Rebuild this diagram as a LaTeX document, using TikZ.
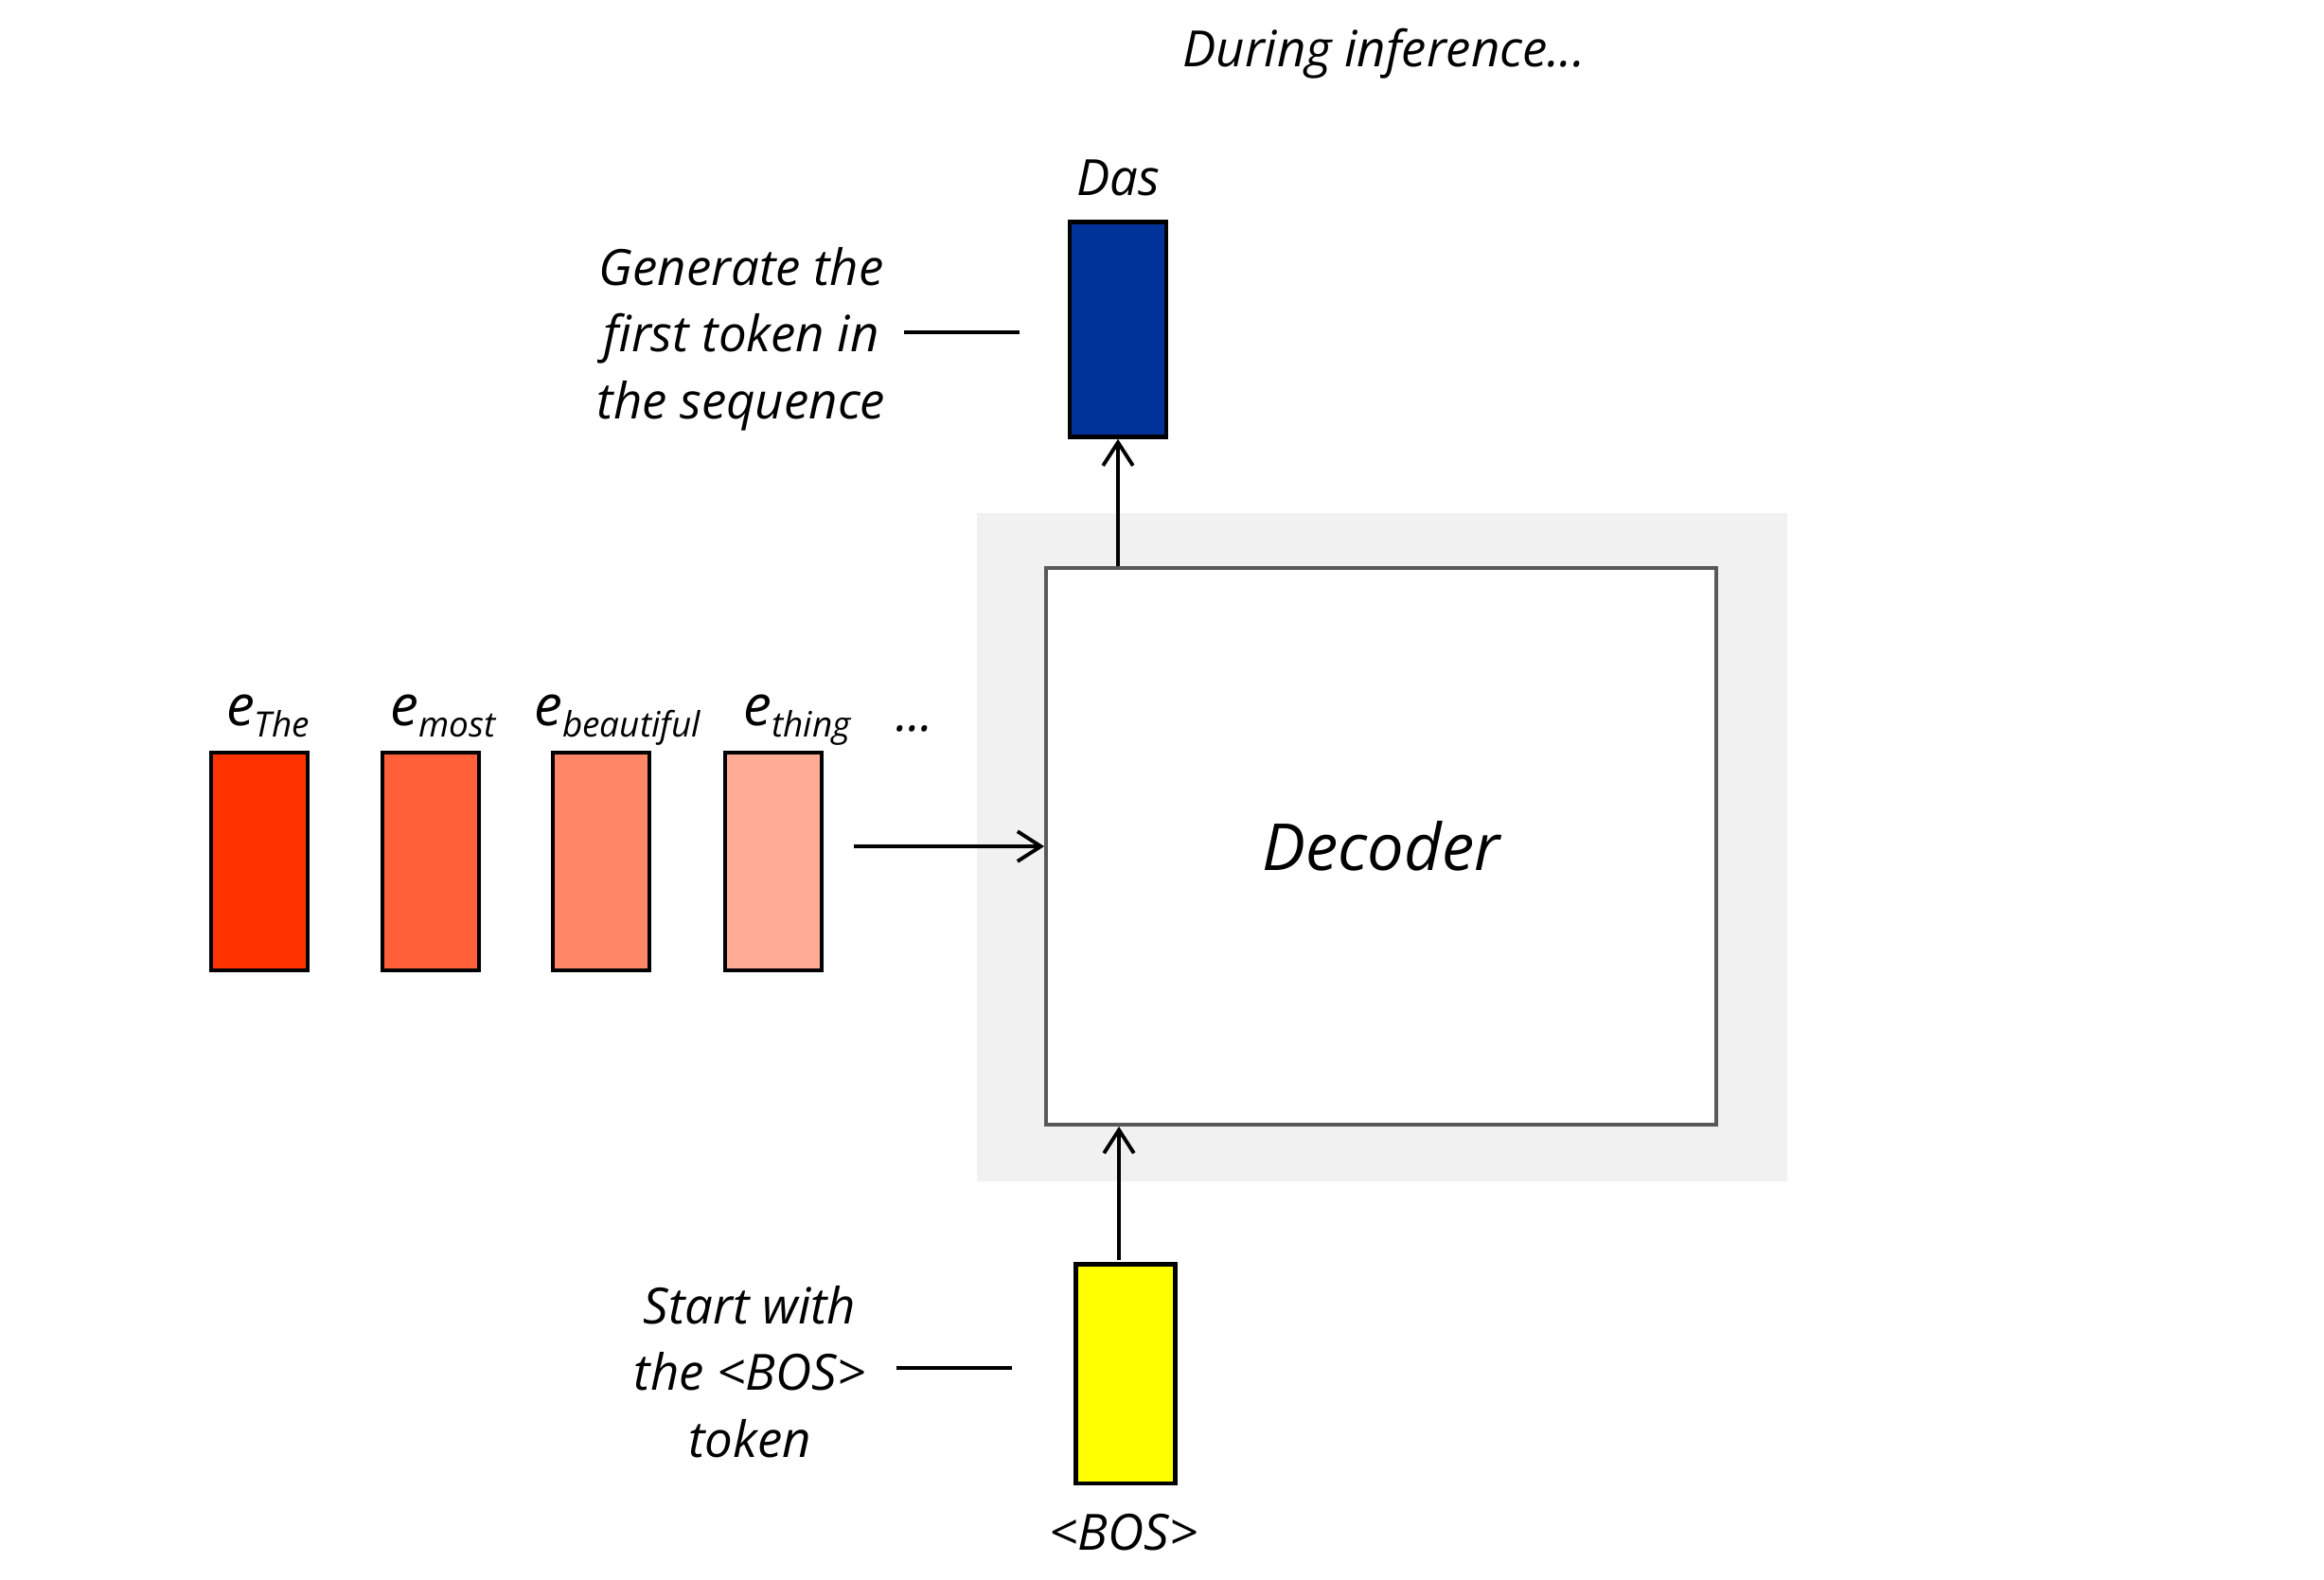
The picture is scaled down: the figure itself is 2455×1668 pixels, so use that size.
\documentclass[tikz,border=0pt]{standalone}
\usepackage{fontspec}
\setmainfont{Open Sans}
\usetikzlibrary{arrows.meta}
\definecolor{eThe}{HTML}{FF3300}
\definecolor{eMost}{HTML}{FF5F39}
\definecolor{eBeau}{HTML}{FF8767}
\definecolor{eThing}{HTML}{FFAB96}
\definecolor{dasBlue}{HTML}{003399}
\definecolor{bosYellow}{HTML}{FFFF00}
\definecolor{bgGray}{HTML}{F1F1F1}
\definecolor{decGray}{HTML}{595959}
\tikzset{
  tok/.style={draw=black, line width=1.2pt, minimum width=1.02cm, minimum height=2.3cm, inner sep=0pt},
  arr/.style={line width=1.1pt, -{Straight Barb[length=7pt,width=9pt,line width=1.1pt]}},
  lbl/.style={font=\fontsize{15}{20}\selectfont\itshape, align=center, inner sep=0pt},
  conn/.style={line width=1.1pt},
}
\newcommand{\emb}[1]{{\fontsize{17}{17}\selectfont e}\raisebox{-3.5pt}{\fontsize{10.5}{10.5}\selectfont #1}}
\begin{document}
\begin{tikzpicture}[x=0.01cm,y=-0.01cm]
\useasboundingbox (0,0) rectangle (2455,1668);
% background panel and decoder
\node[fill=bgGray, minimum width=8.56cm, minimum height=7.06cm, inner sep=0pt] (bg) at (1460,895) {};
\node[draw=decGray, line width=1pt, fill=white, minimum width=7.08cm, minimum height=5.88cm, inner sep=0pt,
      font=\fontsize{19.5}{19.5}\selectfont\itshape] (dec) at (1459,894) {Decoder};
% title
\node[lbl] (title) at (1462,57) {During inference...};
% output token
\node[tok, fill=dasBlue, minimum height=2.27cm] (das) at (1181,348) {};
\node[lbl] (daslbl) at (1181,188) {Das};
% BOS token
\node[tok, fill=bosYellow, minimum width=1.05cm, minimum height=2.31cm] (bos) at (1189,1451) {};
\node[lbl] (boslbl) at (1187,1619) {<BOS>};
% embeddings
\node[tok, fill=eThe] (e1) at (274,910) {};
\node[tok, fill=eMost] (e2) at (455,910) {};
\node[tok, fill=eBeau] (e3) at (635,910) {};
\node[tok, fill=eThing] (e4) at (817,910) {};
\node[lbl, anchor=base] (l1) at (283,766) {\emb{The}};
\node[lbl, anchor=base] (l2) at (468,766) {\emb{most}};
\node[lbl, anchor=base] (l3) at (652,766) {\emb{beautiful}};
\node[lbl, anchor=base] (l4) at (842,766) {\emb{thing}};
\node[lbl, anchor=base] (dots) at (966,772) {...};
% annotations
\node[lbl] (gen) at (783,358) {Generate the\\first token in\\the sequence};
\node[lbl] (start) at (792,1449) {Start with\\the <BOS>\\token};
\coordinate (g1) at (955,351);
\coordinate (g2) at (1077,351);
\coordinate (s1) at (947,1445);
\coordinate (s2) at (1069,1445);
\draw[conn] (g1) -- (g2);
\draw[conn] (s1) -- (s2);
% arrows
\coordinate (embend) at (902,894);
\draw[arr] (embend) -- (dec.west |- embend);
\draw[arr] (dec.north -| das) -- (das.south);
\coordinate (bosup) at (1182,1331);
\draw[arr] (bosup) -- (bosup |- dec.south);
\end{tikzpicture}
\end{document}
